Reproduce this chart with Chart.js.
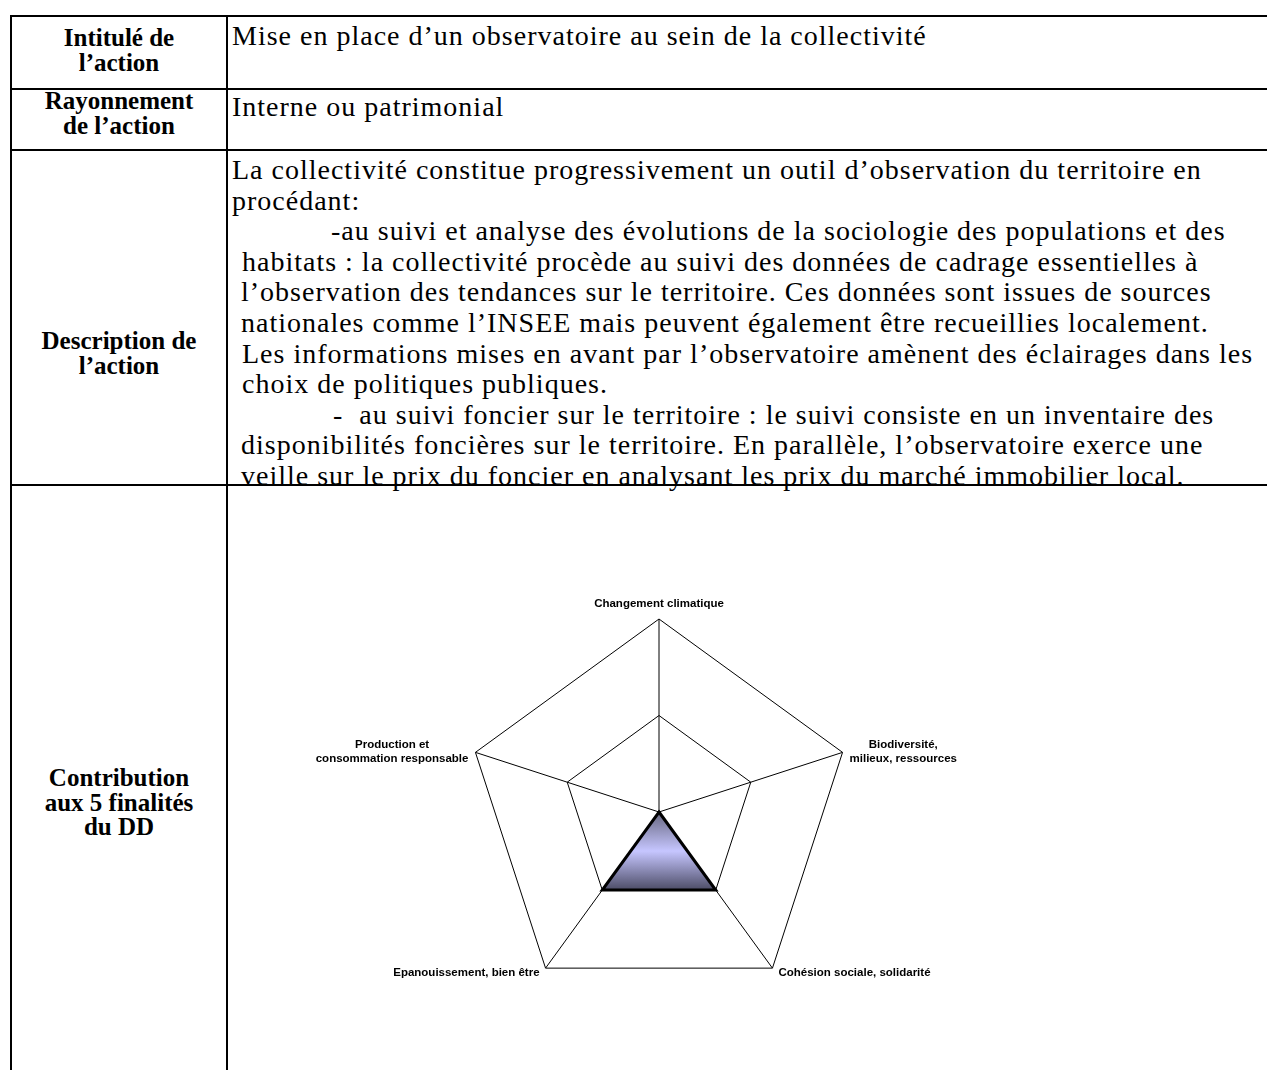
<!DOCTYPE html>
<html lang="fr">
<head>
<meta charset="utf-8">
<title>Mise en place d’un observatoire</title>
<script src="https://cdn.jsdelivr.net/npm/chart.js@4.4.1/dist/chart.umd.min.js"></script>
<style>
  html, body { margin: 0; padding: 0; background: #fff; overflow: hidden; }
  #page { position: relative; width: 1267px; height: 1070px; overflow: hidden; }
  .hl { position: absolute; left: 10px; width: 1300px; height: 2px; background: #000; }
  .vl { position: absolute; top: 15px; width: 2px; height: 1100px; background: #000; }
  .head {
    position: absolute; left: 12px; width: 214px; text-align: center;
    font-family: "Liberation Serif", "Times New Roman", serif;
    font-weight: bold; font-size: 25px; line-height: 25px; color: #000;
  }
  .body {
    position: absolute; left: 0; font-family: "Liberation Serif", "Times New Roman", serif;
    font-size: 28px; letter-spacing: 1px; line-height: 30.6px; color: #000; white-space: pre;
  }
  .body div { position: relative; }
  #chartBox { position: absolute; left: 259px; top: 580px; width: 800px; height: 430px; }
</style>
</head>
<body>
<div id="page">
  <div class="hl" style="top:15px"></div>
  <div class="hl" style="top:88px"></div>
  <div class="hl" style="top:149px"></div>
  <div class="hl" style="top:484px"></div>
  <div class="vl" style="left:10px"></div>
  <div class="vl" style="left:226px"></div>

  <div class="head" style="top:25px">Intitulé de<br>l’action</div>
  <div class="head" style="top:88px">Rayonnement<br>de l’action</div>
  <div class="head" style="top:328px">Description de<br>l’action</div>
  <div class="head" style="top:766px;line-height:24.5px">Contribution<br>aux 5 finalités<br>du DD</div>

  <div class="body" id="row1" style="top:21px"></div>
  <div class="body" id="row2" style="top:92px"></div>
  <div class="body" id="row3" style="top:155px"></div>

  <div id="chartBox"><canvas id="radar" width="800" height="430"></canvas></div>
</div>
<script>
// texte du tableau : [retrait en px, ligne]
const row1Lines = [[232, "Mise en place d’un observatoire au sein de la collectivité"]];
const row2Lines = [[232, "Interne ou patrimonial"]];
const row3Lines = [
  [232, "La collectivité constitue progressivement un outil d’observation du territoire en"],
  [232, "procédant:"],
  [331, "-au suivi et analyse des évolutions de la sociologie des populations et des"],
  [242, "habitats : la collectivité procède au suivi des données de cadrage essentielles à"],
  [241, "l’observation des tendances sur le territoire. Ces données sont issues de sources"],
  [241, "nationales comme l’INSEE mais peuvent également être recueillies localement."],
  [242, "Les informations mises en avant par l’observatoire amènent des éclairages dans les"],
  [242, "choix de politiques publiques."],
  [333, "-  au suivi foncier sur le territoire : le suivi consiste en un inventaire des"],
  [241, "disponibilités foncières sur le territoire. En parallèle, l’observatoire exerce une"],
  [241, "veille sur le prix du foncier en analysant les prix du marché immobilier local."]
];

// données du radar
const categories = [
  "Changement climatique",
  ["Biodiversité,", "milieux, ressources"],
  "Cohésion sociale, solidarité",
  "Epanouissement, bien être",
  ["Production et", "consommation responsable"]
];
const scores = [0, 0, 1, 1, 0];
const scaleMin = 0;
const scaleMax = 2;
const scaleStep = 1;

function fillRow(id, lines) {
  const el = document.getElementById(id);
  lines.forEach(function (l) {
    const d = document.createElement("div");
    d.style.left = l[0] + "px";
    d.textContent = l[1];
    el.appendChild(d);
  });
}
fillRow("row1", row1Lines);
fillRow("row2", row2Lines);
fillRow("row3", row3Lines);

// dégradé vertical sur la surface remplie
function areaGradient(context) {
  const chart = context.chart;
  const r = chart.scales.r;
  if (!chart.chartArea || !r) {
    return "#c4c4ff";
  }
  let top = Infinity;
  let bottom = -Infinity;
  for (let i = 0; i < scores.length; i++) {
    const p = r.getPointPositionForValue(i, scores[i]);
    top = Math.min(top, p.y);
    bottom = Math.max(bottom, p.y);
  }
  if (bottom - top < 1) bottom = top + 1;
  const g = chart.ctx.createLinearGradient(0, top, 0, bottom);
  g.addColorStop(0, "#66667f");
  g.addColorStop(0.5, "#c6c6ff");
  g.addColorStop(1, "#4c4c66");
  return g;
}

// étiquettes des axes, centrées ligne à ligne comme dans Excel
const axisLabels = {
  id: "axisLabels",
  afterDraw(chart) {
    const r = chart.scales.r;
    const ctx = chart.ctx;
    const lineH = 14;
    ctx.save();
    ctx.font = 'bold 11.5px "Liberation Sans", Arial, sans-serif';
    ctx.fillStyle = "#000";
    chart.data.labels.forEach(function (label, i) {
      const lines = [].concat(label);
      const p = r.getPointPosition(i, r.drawingArea);
      const a = r.getIndexAngle(i);
      const s = Math.sin(a);
      const c = Math.cos(a);
      if (Math.abs(s) < 0.01) {
        ctx.textAlign = "center";
        ctx.textBaseline = "alphabetic";
        lines.forEach(function (t, k) {
          ctx.fillText(t, p.x, p.y - 12 - (lines.length - 1 - k) * lineH);
        });
        return;
      }
      const side = s > 0 ? 1 : -1;
      const blockW = Math.max.apply(null, lines.map(function (t) { return ctx.measureText(t).width; }));
      const x0 = p.x + side * (c > 0 ? 7 : 6);
      const cx = x0 + side * blockW / 2;
      const cy = c > 0 ? p.y - 1 : p.y + 5;
      ctx.textAlign = "center";
      ctx.textBaseline = "middle";
      lines.forEach(function (t, k) {
        ctx.fillText(t, cx, cy + (k - (lines.length - 1) / 2) * lineH);
      });
    });
    ctx.restore();
  }
};

new Chart(document.getElementById("radar"), {
  type: "radar",
  data: {
    labels: categories,
    datasets: [{
      label: "Contribution",
      data: scores,
      backgroundColor: areaGradient,
      borderColor: "#000",
      borderWidth: 3,
      borderJoinStyle: "miter",
      pointRadius: 0,
      pointHoverRadius: 0,
      fill: true,
      tension: 0
    }]
  },
  options: {
    responsive: false,
    animation: false,
    devicePixelRatio: 1,
    layout: { padding: { top: 39, bottom: 5, left: 0, right: 0 } },
    plugins: {
      legend: { display: false },
      tooltip: { enabled: false }
    },
    scales: {
      r: {
        min: scaleMin,
        max: scaleMax,
        ticks: { display: false, stepSize: scaleStep },
        grid: { color: "#000", lineWidth: 1 },
        angleLines: { color: "#000", lineWidth: 1 },
        pointLabels: { display: false }
      }
    }
  },
  plugins: [axisLabels]
});
</script>
</body>
</html>
